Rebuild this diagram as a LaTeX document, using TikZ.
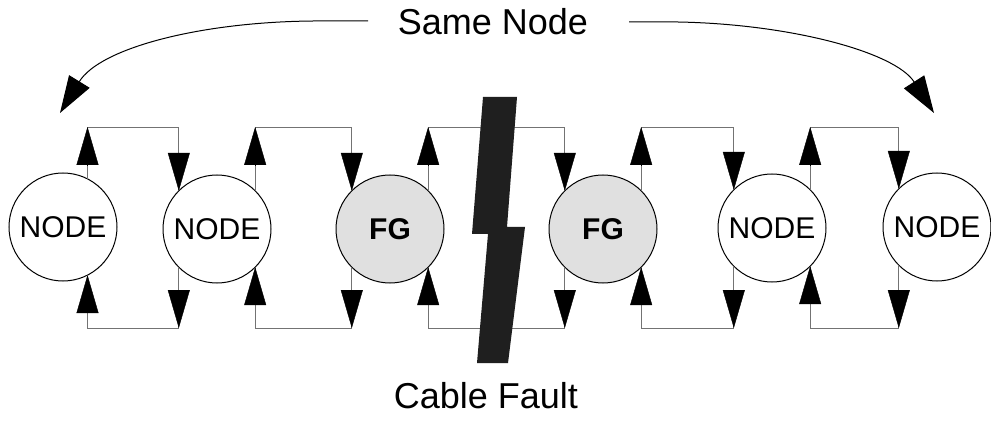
\documentclass[tikz,border=0pt]{standalone}
\usepackage{fontspec}
\setmainfont{Liberation Sans}
\usetikzlibrary{arrows.meta,calc}
\begin{document}
\begin{tikzpicture}[x=1pt,y=-1pt,
  ring/.style={circle,draw=black,line width=1pt,minimum size=108pt,inner sep=0pt,outer sep=0pt,
     font=\fontsize{30}{32}\selectfont},
  plain/.style={ring,fill=white},
  fg/.style={ring,fill=black!12,font=\fontsize{30}{32}\selectfont\bfseries},
  link/.style={draw=black!55,line width=0.8pt},
  tri/.style={-{Triangle[length=38pt,width=22pt]},line width=0.4pt,black},
  bigtri/.style={-{Triangle[length=37pt,width=24pt]},line width=1pt,black},
  lbl/.style={font=\fontsize{36}{40}\selectfont,inner sep=0pt}]
\useasboundingbox (0,0) rectangle (991,422);
\fill[white] (0,0) rectangle (991,422);
\coordinate (T) at (0,127);
\coordinate (B) at (0,328);
% nodes
\node[plain] (n1) at (63,227) {NODE};
\node[plain] (n2) at (217,229) {NODE};
\node[fg] (fg1) at (390,229) {FG};
\node[fg] (fg2) at (603,229) {FG};
\node[plain] (n5) at (772,228) {NODE};
\node[plain] (n6) at (937,227) {NODE};
% ring links
\foreach \a/\ang/\b in {n1/63/n2, n2/45/fg1, fg1/45/fg2, fg2/45/n5, n5/45/n6}{
  \draw[link] (\a.\ang) -- (\a.\ang |- T) -| (\b.135);
  \draw[link] (\b.-135) -- (\b.-135 |- B) -| (\a.-\ang);
  \draw[tri] ($(\a.\ang |- T)+(0,39)$) -- (\a.\ang |- T);
  \draw[tri] ($(\b.135)+(0,-38)$) -- (\b.135);
  \draw[tri] ($(\b.-135 |- B)+(0,-38)$) -- (\b.-135 |- B);
  \draw[tri] ($(\a.-\ang)+(0,37)$) -- (\a.-\ang);
}
% cable fault bolt
\fill[black!88] (483,97) -- (517,97) -- (507,227) -- (525,227) -- (508,363)
  -- (477,363) -- (488,234) -- (472,234) -- cycle;
% labels
\node[lbl] (same) at (493,22) {Same Node};
\node[lbl] (fault) at (486,396) {Cable Fault};
\coordinate (sl) at (368,21);
\coordinate (sr) at (629,22);
\coordinate (tl) at (60,113);
\coordinate (tr) at (934,113);
\draw[bigtri] (sl) -- (313,21) .. controls (200,22) and (100,48) .. (tl);
\draw[bigtri] (sr) -- (678,22) .. controls (790,24) and (895,52) .. (tr);
\end{tikzpicture}
\end{document}
